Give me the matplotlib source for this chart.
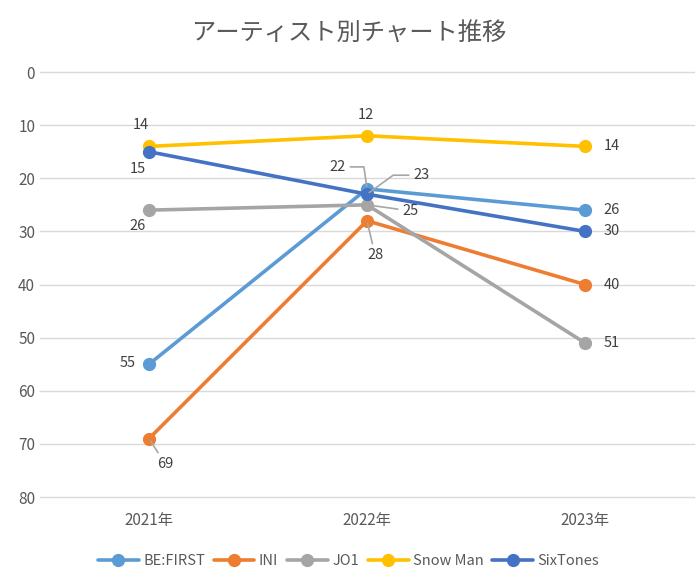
import numpy as np
import matplotlib
matplotlib.use("Agg")
import matplotlib.pyplot as plt

plt.rcParams['font.family'] = ['Noto Sans CJK JP', 'DejaVu Sans']

# Data
years = ["2021年", "2022年", "2023年"]
artists = ["BE:FIRST", "INI", "JO1", "Snow Man", "SixTones"]
be_first = [55, 22, 26]
ini = [69, 28, 40]
jo1 = [26, 25, 51]
snow_man = [14, 12, 14]
sixtones = [15, 23, 30]
series = [be_first, ini, jo1, snow_man, sixtones]
colors = ["#5B9BD5", "#ED7D31", "#A5A5A5", "#FFC000", "#4472C4"]

# label offsets in pixels (dx, dy), dy positive = up ; leader connection style (None = no leader)
offsets = {
    "BE:FIRST": [(-21, 1, None), (-29, 22, "angle,angleA=0,angleB=98,rad=0"), (27, 0, None)],
    "INI": [(16, -25, "arc3"), (8, -34, "arc3"), (27, 0, None)],
    "JO1": [(-11, -16, None), (43, -6, "arc3"), (27, 0, None)],
    "Snow Man": [(-8, 21, None), (-1, 21, None), (27, 0, None)],
    "SixTones": [(-11, -17, None), (54, 19, "angle,angleA=0,angleB=36,rad=0"), (27, 0, None)],
}

fig = plt.figure(figsize=(6.97, 5.79), dpi=100)
ax = fig.add_axes([0.0574, 0.1416, 0.9383, 0.734])

x = np.arange(len(years))
for name, vals, c in zip(artists, series, colors):
    ax.plot(x, vals, color=c, lw=2.6, marker='o', markersize=8.5, label=name,
            solid_capstyle='round', zorder=3)
    for xi, v, (dx, dy, lead) in zip(x, vals, offsets[name]):
        if lead:
            ax.annotate(str(v), xy=(xi, v), xytext=(dx, dy), textcoords='offset pixels',
                        ha='center', va='center', fontsize=10.5, color='#404040',
                        arrowprops=dict(arrowstyle='-', color='#A6A6A6', lw=1.2,
                                        shrinkA=1, shrinkB=2, connectionstyle=lead),
                        zorder=4)
        else:
            ax.annotate(str(v), xy=(xi, v), xytext=(dx, dy), textcoords='offset pixels',
                        ha='center', va='center', fontsize=10.5, color='#404040', zorder=4)

ax.set_xlim(-0.5, 2.5)
ax.set_ylim(80, 0)
ax.set_yticks(np.arange(0, 81, 10))
ax.set_xticks(x)
ax.set_xticklabels(years)
ax.tick_params(axis='both', length=0, labelsize=11, colors='#595959')
ax.tick_params(axis='x', pad=11)
ax.grid(axis='y', color='#D9D9D9', lw=1)
for gl in ax.get_ygridlines():
    gl.set_clip_on(False)
ax.set_axisbelow(True)
for s in ax.spines.values():
    s.set_visible(False)

fig.suptitle("アーティスト別チャート推移", y=0.965, fontsize=17.5, color='#595959')
fig.legend(loc='center', bbox_to_anchor=(0.5, 0.031), ncol=5, frameon=False,
           fontsize=10.5, handlelength=2.8, columnspacing=0.6, handletextpad=0.3,
           labelcolor='#595959')

fig.savefig("out.png", dpi=100)
